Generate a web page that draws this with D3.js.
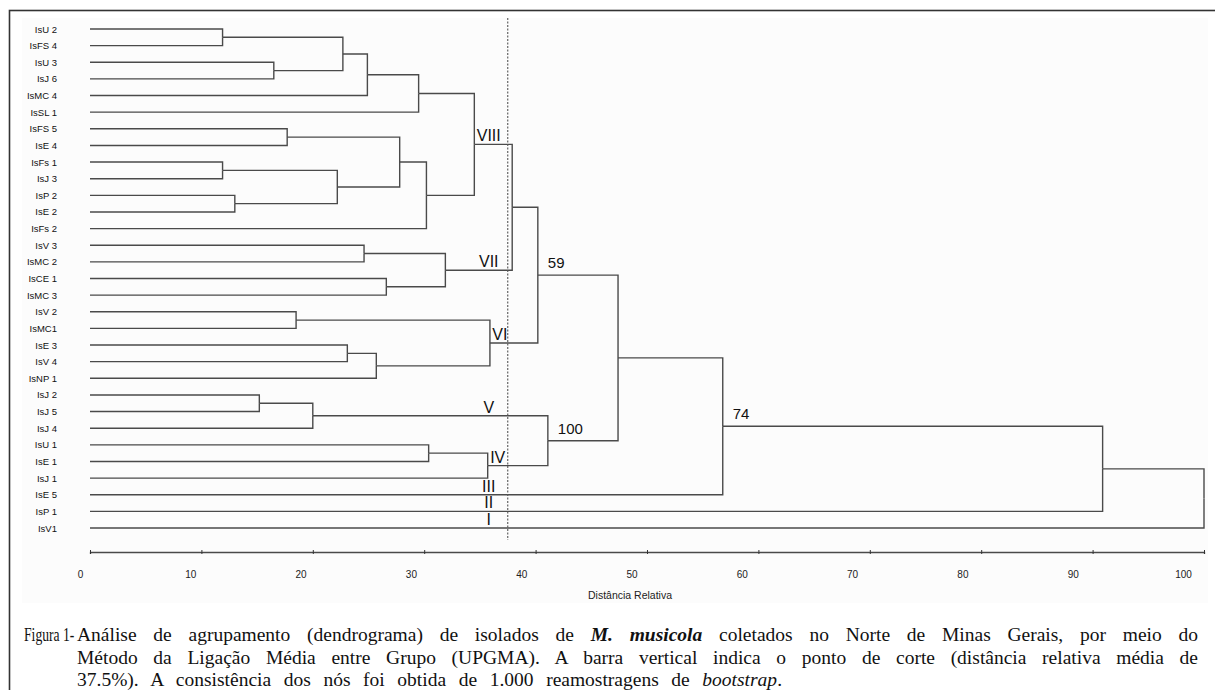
<!DOCTYPE html>
<html>
<head>
<meta charset="utf-8">
<script src="https://cdn.jsdelivr.net/npm/d3@7"></script>
<style>
  body { margin: 0; background: #fff; }
  svg { display: block; }
</style>
</head>
<body>
<script>
// leaf order, top to bottom
const leaves = [
  "IsU 2", "IsFS 4", "IsU 3", "IsJ 6", "IsMC 4", "IsSL 1", "IsFS 5", "IsE 4",
  "IsFs 1", "IsJ 3", "IsP 2", "IsE 2", "IsFs 2", "IsV 3", "IsMC 2", "IsCE 1",
  "IsMC 3", "IsV 2", "IsMC1", "IsE 3", "IsV 4", "IsNP 1", "IsJ 2", "IsJ 5",
  "IsJ 4", "IsU 1", "IsE 1", "IsJ 1", "IsE 5", "IsP 1", "IsV1"
];

// merges: [id, first child, second child, relative distance]
const merges = [
  ["n1", "IsU 2", "IsFS 4", 11.9],
  ["n2", "IsU 3", "IsJ 6", 16.5],
  ["n3", "n1", "n2", 22.7],
  ["n4", "n3", "IsMC 4", 24.9],
  ["n5", "n4", "IsSL 1", 29.5],
  ["n6", "IsFS 5", "IsE 4", 17.7],
  ["n7", "IsFs 1", "IsJ 3", 11.9],
  ["n8", "IsP 2", "IsE 2", 13.0],
  ["n9", "n7", "n8", 22.2],
  ["n10", "n6", "n9", 27.8],
  ["n11", "n10", "IsFs 2", 30.2],
  ["n12", "n5", "n11", 34.5],
  ["n13", "IsV 3", "IsMC 2", 24.6],
  ["n14", "IsCE 1", "IsMC 3", 26.6],
  ["n15", "n13", "n14", 31.9],
  ["n16", "n12", "n15", 37.9],
  ["n17", "IsV 2", "IsMC1", 18.5],
  ["n18", "IsE 3", "IsV 4", 23.1],
  ["n19", "n18", "IsNP 1", 25.7],
  ["n20", "n17", "n19", 35.9],
  ["n21", "n16", "n20", 40.2],
  ["n22", "IsJ 2", "IsJ 5", 15.2],
  ["n23", "n22", "IsJ 4", 20.0],
  ["n24", "IsU 1", "IsE 1", 30.4],
  ["n25", "n24", "IsJ 1", 35.7],
  ["n26", "n23", "n25", 41.1],
  ["n27", "n21", "n26", 47.4],
  ["n28", "n27", "IsE 5", 56.8],
  ["n29", "n28", "IsP 1", 90.9],
  ["n30", "n29", "IsV1", 100]
];

const groupLabels = [
  ["VIII", "n12"], ["VII", "n15"], ["VI", "n20"], ["V", "n23"],
  ["IV", "n25"], ["III", "IsE 5"], ["II", "IsP 1"], ["I", "IsV1"]
];
const bootValues = [["59", "n21"], ["100", "n26"], ["74", "n28"]];
const cutoff = 37.5;
const xTicks = [0, 10, 20, 30, 40, 50, 60, 70, 80, 90, 100];
const xTitle = "Distância Relativa";

const captionHead = "Figura 1-";
const captionLines = [
  [["Análise de agrupamento (dendrograma) de isolados de ", ""], ["M. musicola", "bi"],
   [" coletados no Norte de Minas Gerais, por meio do", ""]],
  [["Método da Ligação Média entre Grupo (UPGMA). A barra vertical indica o ponto de corte (distância relativa média de", ""]],
  [["37.5%). A consistência dos nós foi obtida de 1.000 reamostragens de ", ""], ["bootstrap", "i"], [".", ""]]
];

const W = 1215, H = 690;
const svg = d3.select("body").append("svg").attr("width", W).attr("height", H);

// frame
svg.append("rect").attr("x", 9.5).attr("y", 10.5).attr("width", 1230).attr("height", 700)
  .attr("fill", "#fff").attr("stroke", "#333").attr("stroke-width", 1.6);
svg.append("rect").attr("x", 22).attr("y", 18).attr("width", 1186).attr("height", 585)
  .attr("fill", "#fcfcfc");

const x = d3.scaleLinear().domain([0, 100]).range([90, 1204]);
const xLabel = d3.scaleLinear().domain([0, 100]).range([80, 1183]);
const y = d3.scalePoint().domain(leaves).range([29, 528]);

// build tree
const byName = {};
leaves.forEach(l => byName[l] = { name: l, d: 0 });
merges.forEach(([id, a, b, d]) => byName[id] = { name: id, d: d, children: [byName[a], byName[b]] });
const root = d3.hierarchy(byName[merges[merges.length - 1][0]]);
root.eachAfter(n => {
  if (n.children) n.py = (n.children[0].py + n.children[n.children.length - 1].py) / 2;
  else n.py = y(n.data.name);
  n.px = x(n.data.d);
});
const nodeOf = {};
root.each(n => nodeOf[n.data.name] = n);

const lineColor = "#4a4a4a";
const g = svg.append("g");
g.selectAll("path.link")
  .data(root.descendants().filter(n => n.parent))
  .join("path")
  .attr("class", "link")
  .attr("fill", "none")
  .attr("stroke", lineColor)
  .attr("stroke-width", 1.4)
  .attr("d", n => `M${n.px},${n.py}H${n.parent.px}V${n.parent.py}`);

// leaf labels
svg.append("g").selectAll("text")
  .data(leaves)
  .join("text")
  .attr("x", 57)
  .attr("y", d => y(d) + 3.5)
  .attr("text-anchor", "end")
  .attr("font-family", "Liberation Sans, Arial, sans-serif")
  .attr("font-size", 9.5)
  .attr("fill", "#111")
  .text(d => d);

// cut line
svg.append("line")
  .attr("x1", x(cutoff)).attr("x2", x(cutoff))
  .attr("y1", 18).attr("y2", 540)
  .attr("stroke", "#555").attr("stroke-width", 1.1)
  .attr("stroke-dasharray", "2,1.5");

// group numerals
svg.append("g").selectAll("text")
  .data(groupLabels)
  .join("text")
  .attr("x", d => Math.max(x(cutoff) - 19, nodeOf[d[1]].px + 10))
  .attr("y", d => nodeOf[d[1]].py - 3)
  .attr("text-anchor", "middle")
  .attr("font-family", "Liberation Sans, Arial, sans-serif")
  .attr("font-size", 16)
  .attr("fill", "#111")
  .text(d => d[0]);

// bootstrap values
svg.append("g").selectAll("text")
  .data(bootValues)
  .join("text")
  .attr("x", d => nodeOf[d[1]].px + 10)
  .attr("y", d => nodeOf[d[1]].py - 7)
  .attr("font-family", "Liberation Sans, Arial, sans-serif")
  .attr("font-size", 15)
  .attr("fill", "#111")
  .text(d => d[0]);

// axis
const axis = svg.append("g")
  .attr("transform", "translate(0,552)")
  .call(d3.axisBottom(x).tickValues(xTicks).tickSize(2).tickSizeOuter(2).tickFormat(d3.format("d")));
axis.select(".domain").attr("stroke", lineColor).attr("stroke-width", 1.3);
axis.selectAll(".tick line").attr("stroke", "#333").attr("y1", -2).attr("y2", 2);
axis.selectAll(".tick text")
  .attr("x", d => xLabel(d) - x(d))
  .attr("y", 19)
  .attr("font-family", "Liberation Sans, Arial, sans-serif")
  .attr("font-size", 10)
  .attr("fill", "#222");

svg.append("text")
  .attr("x", 630).attr("y", 599)
  .attr("text-anchor", "middle")
  .attr("font-family", "Liberation Sans, Arial, sans-serif")
  .attr("font-size", 10.5)
  .attr("fill", "#222")
  .text(xTitle);

// caption
const capFont = "Liberation Serif, Times New Roman, serif";
const capSize = 19.5;
svg.append("g")
  .attr("transform", "translate(24,641) scale(0.7,1)")
  .append("text")
  .attr("font-family", capFont).attr("font-size", capSize).attr("fill", "#111")
  .text(captionHead);

const lineEnds = [1198, 1198, 782];
captionLines.forEach((segs, i) => {
  const t = svg.append("text")
    .attr("x", 77).attr("y", 641 + i * 22.5)
    .attr("font-family", capFont).attr("font-size", capSize).attr("fill", "#111")
    .attr("xml:space", "preserve");
  segs.forEach(([txt, st]) => {
    t.append("tspan")
      .attr("font-weight", st.includes("b") ? "bold" : null)
      .attr("font-style", st.includes("i") ? "italic" : null)
      .text(txt);
  });
  const natural = t.node().getComputedTextLength();
  const spaces = segs.map(s => s[0]).join("").split(" ").length - 1;
  const extra = Math.max(0, (lineEnds[i] - 77 - natural) / spaces);
  t.attr("word-spacing", extra);
});
</script>
</body>
</html>
